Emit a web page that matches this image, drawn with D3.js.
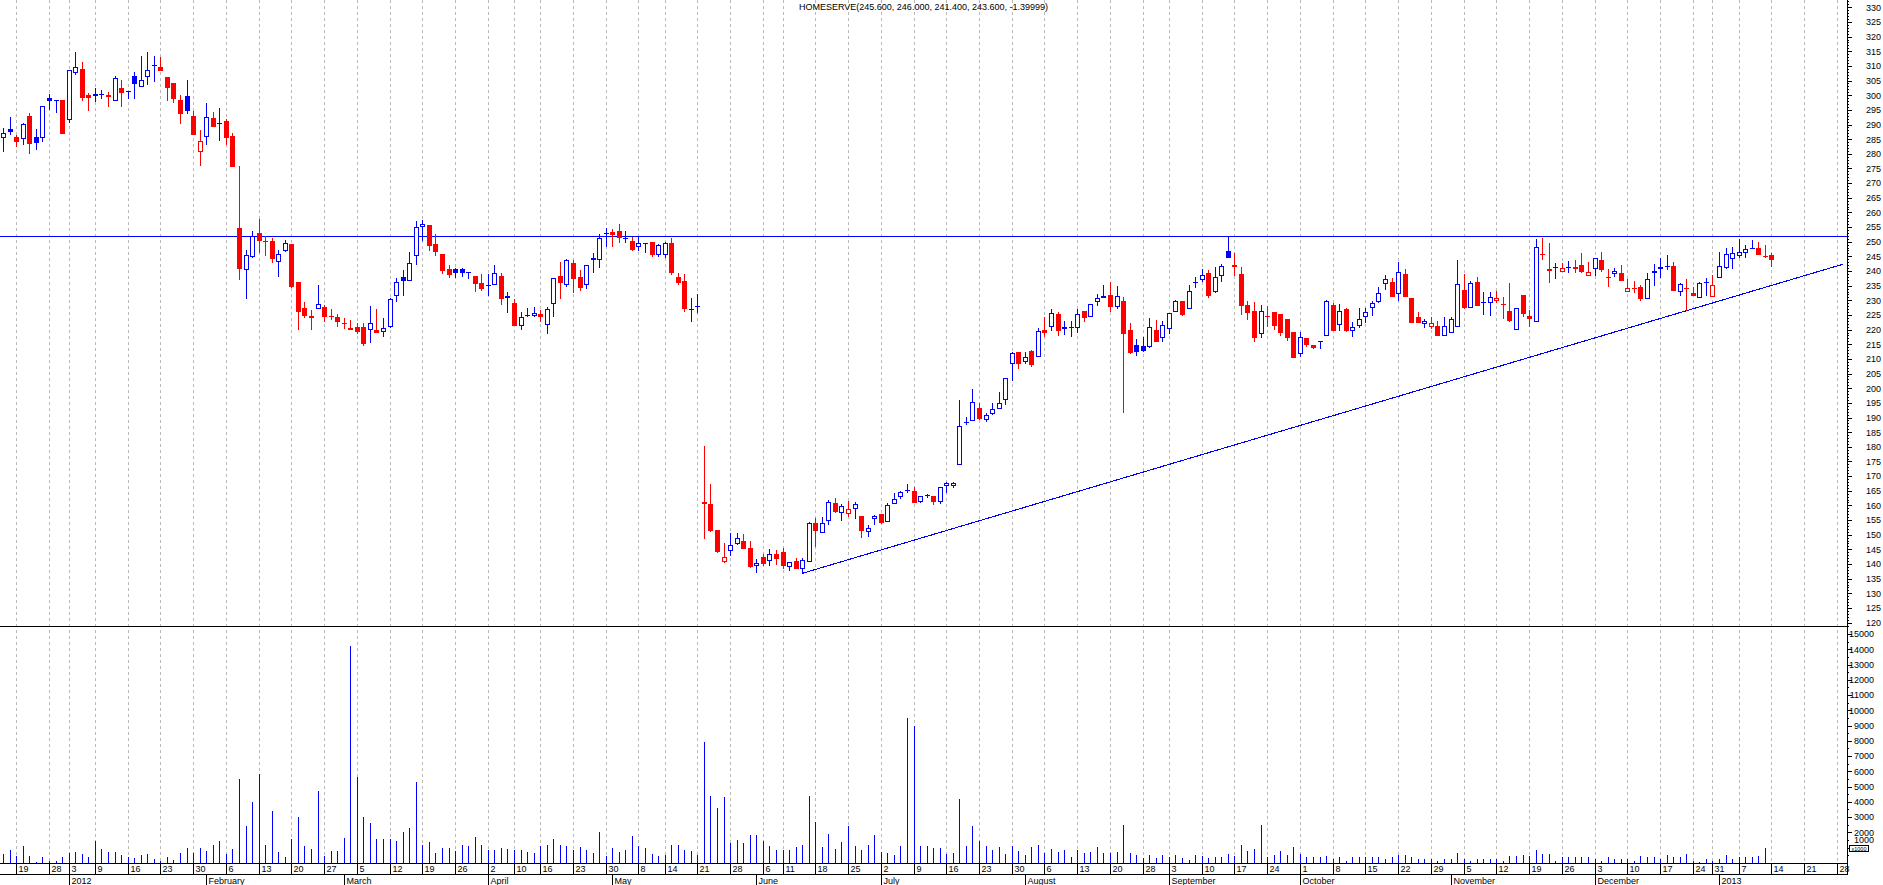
<!DOCTYPE html>
<html><head><meta charset="utf-8">
<script src="https://cdn.jsdelivr.net/npm/d3@7"></script>
<style>
html,body{margin:0;padding:0;background:#fff;overflow:hidden;}
svg{display:block;background:#fff;}
</style></head><body>
<svg id="chart" width="1883" height="885"></svg>
<script>
// ---------- DATA ----------
const title = "HOMESERVE(245.600, 246.000, 241.400, 243.600, -1.39999)";
const firstDay = "2011-12-15";
const lastAxisDay = "2013-01-31";
const holidays = ["2011-12-26","2011-12-27","2012-01-02","2012-04-06","2012-04-09","2012-05-07",
  "2012-06-04","2012-06-05","2012-08-27","2012-12-25","2012-12-26","2013-01-01"];
const firstPrevClose = 284.5;

const opens = [
285.3,288.5,285.8,284.9,292.9,285.6,285.3,299.0,298.2,298.4,
291.4,307.5,308.9,300.0,299.8,300.4,300.1,298.1,302.5,301.3,
306.6,302.7,306.3,310.2,309.6,306.2,304.3,298.4,299.7,292.9,
280.7,285.8,292.1,290.1,291.2,286.1,254.7,240.3,244.9,252.9,
250.2,250.3,243.0,246.8,249.2,236.2,227.4,223.8,226.9,227.8,
224.6,224.3,222.1,220.4,220.8,220.8,219.9,219.9,219.1,220.8,
231.6,237.9,236.7,245.1,255.1,255.7,249.2,245.8,240.6,240.6,
240.6,239.4,238.3,235.8,235.1,235.1,238.3,231.6,229.0,221.3,
224.8,224.5,225.3,221.6,228.6,238.3,235.2,242.6,237.8,235.2,
243.8,243.8,253.0,253.4,253.7,251.1,250.2,248.3,249.5,249.9,
245.5,245.5,249.7,238.1,236.6,226.6,227.8,160.5,160.5,151.6,
140.8,144.5,146.8,147.9,145.3,139.3,142.5,141.1,143.4,144.0,
138.9,141.0,138.2,140.8,153.9,150.7,154.8,160.7,157.5,157.1,
158.7,156.4,151.0,155.2,157.0,154.4,160.4,163.0,165.2,165.0,
161.3,163.3,163.3,161.0,166.6,166.6,173.8,188.5,188.9,193.1,
189.1,191.2,193.0,196.0,208.1,212.5,209.1,212.7,210.5,219.9,
220.8,225.3,221.0,220.9,220.4,226.3,224.2,229.3,230.7,231.8,
227.8,229.8,219.9,214.7,214.4,213.9,219.9,217.0,220.1,225.9,
229.8,226.9,236.0,236.9,239.2,232.9,238.3,246.8,241.9,239.0,
228.4,226.5,218.5,224.8,226.0,225.3,223.6,219.3,211.6,217.0,
214.8,216.0,217.8,228.4,221.6,227.0,219.5,221.2,224.2,227.3,
229.5,235.5,236.3,232.0,239.0,230.7,224.2,221.8,221.0,221.2,
217.8,219.0,220.8,233.5,227.3,236.1,229.4,229.0,229.9,228.9,
226.4,219.9,231.8,224.8,222.5,245.8,240.6,241.5,239.5,241.2,
241.4,242.0,238.3,240.6,243.8,237.8,238.9,239.2,232.7,234.2,
234.4,230.3,239.2,240.6,241.7,241.7,232.9,234.1,232.4,230.7,
236.3,231.2,237.5,240.9,244.0,245.1,246.0,247.6,247.7,245.1,245.6];

const highs = [
288.7,292.4,286.4,290.4,293.8,288.5,296.2,300.4,298.3,298.4,
308.5,314.7,311.2,300.9,302.3,301.9,301.0,306.6,305.2,301.4,
308.0,313.4,314.7,313.4,313.0,306.2,304.3,300.1,305.2,294.5,
288.1,297.2,294.4,295.5,291.8,287.2,275.8,247.2,253.7,257.7,
252.0,251.2,247.2,250.6,249.2,236.2,229.5,226.7,235.2,228.3,
227.0,225.3,223.8,223.3,222.1,222.1,228.0,227.2,223.8,230.7,
237.5,240.3,246.4,257.1,257.4,255.7,252.6,245.8,242.0,241.0,
241.1,239.5,238.3,239.0,238.9,242.0,239.4,233.0,230.3,226.1,
227.3,227.6,226.7,227.8,237.5,243.2,244.0,243.8,240.3,241.9,
246.0,252.6,254.6,254.2,256.0,253.7,251.5,251.5,249.6,249.9,
249.2,250.0,251.1,239.2,238.9,230.7,232.2,180.3,167.3,151.6,
147.3,150.5,150.5,150.2,148.0,141.6,143.4,145.0,144.8,145.3,
140.8,142.2,141.9,154.5,155.6,155.9,161.8,162.4,160.5,161.6,
161.3,156.4,153.3,156.7,157.0,160.7,164.1,165.0,167.3,166.2,
163.3,163.9,163.3,166.4,167.9,168.1,196.0,190.3,199.6,194.8,
191.7,194.8,198.6,203.4,212.5,212.5,212.5,213.0,220.4,224.2,
226.9,226.1,222.9,222.9,226.9,226.3,228.7,232.2,235.2,236.1,
234.9,231.2,222.1,216.8,217.4,223.9,223.3,223.1,225.5,230.1,
229.8,235.2,237.8,240.6,240.3,241.3,242.4,251.5,246.3,241.3,
229.9,229.5,228.4,228.0,226.0,225.3,223.6,219.3,219.3,217.0,
214.8,216.1,230.1,229.0,228.7,227.3,222.7,227.3,227.3,229.8,
234.4,238.6,237.5,243.2,240.6,230.7,225.9,223.5,224.2,223.0,
224.4,224.4,243.8,239.0,236.7,237.8,233.0,233.0,233.3,231.0,
235.8,227.3,231.8,226.7,250.8,251.2,249.4,242.6,242.9,243.4,
243.8,246.3,243.2,244.3,246.5,240.6,240.9,242.0,237.2,236.7,
235.2,239.2,242.3,244.3,245.5,243.2,235.8,237.3,234.7,236.4,
237.5,238.6,246.6,247.7,248.3,250.8,248.9,250.6,250.0,248.9,246.0];

const lows = [
280.7,286.4,282.2,283.0,279.9,281.3,284.1,294.9,293.8,286.9,
290.4,306.9,298.0,294.7,297.8,298.8,296.0,298.1,296.0,298.7,
298.7,302.7,303.5,304.6,308.4,298.1,297.4,290.3,293.6,286.4,
275.8,283.0,289.3,284.5,283.0,275.4,236.9,230.3,244.3,246.3,
245.1,242.8,238.1,246.4,234.1,219.9,223.8,219.9,226.9,222.7,
223.3,221.0,220.1,219.9,218.5,214.5,215.5,218.7,217.6,220.7,
229.5,231.3,236.7,242.0,250.3,246.9,245.1,239.0,237.5,237.5,
238.1,237.1,233.0,233.2,231.6,235.1,228.4,225.8,221.3,219.9,
224.2,224.2,222.7,218.5,224.2,230.6,234.7,232.6,233.3,233.7,
239.4,240.9,248.1,248.3,249.7,249.7,246.8,246.8,246.2,244.7,
244.7,244.3,238.6,235.2,226.1,222.7,225.8,148.4,151.0,143.6,
140.5,142.7,146.5,145.0,138.5,136.8,139.3,139.4,139.7,138.3,
137.7,138.2,136.8,140.8,145.9,150.7,153.3,157.5,154.8,156.2,
155.2,148.8,149.3,153.3,153.7,154.4,160.4,162.1,164.3,160.7,
160.7,162.4,160.1,160.5,164.3,165.8,173.8,187.4,188.9,189.1,
188.4,190.9,193.0,194.3,202.6,206.4,208.2,207.1,210.5,217.4,
219.6,217.8,218.2,217.6,219.0,222.7,224.2,228.1,230.7,226.1,
226.9,191.6,211.7,211.1,212.5,213.6,215.9,215.9,218.5,225.9,
224.6,226.9,234.3,236.4,230.7,232.4,236.4,244.3,238.3,225.0,
223.3,215.9,217.2,221.0,219.9,217.9,216.1,210.4,210.8,214.2,
213.3,213.3,217.8,219.6,219.6,219.3,217.6,220.4,222.2,224.6,
229.0,233.5,231.2,229.8,231.0,222.2,222.2,220.4,220.1,217.8,
217.8,219.0,220.8,226.9,227.3,228.2,225.0,224.8,229.0,223.6,
222.7,219.9,224.4,221.0,222.5,243.8,236.0,237.2,239.5,239.2,
239.4,239.2,238.3,238.3,239.8,234.7,237.8,236.7,232.7,232.4,
229.9,230.3,234.9,237.5,240.3,233.3,231.5,226.5,231.6,230.7,
231.5,231.2,237.5,240.6,240.6,244.6,244.6,247.6,245.3,244.6,241.4];

const closes = [
287.0,287.6,284.1,290.1,283.3,283.8,296.2,298.1,298.3,286.9,
308.5,309.5,299.2,299.0,300.4,300.5,299.5,305.8,300.9,301.4,
303.7,305.2,308.6,310.3,308.4,302.6,298.8,293.7,294.7,286.4,
284.3,292.4,289.3,290.6,285.3,275.4,240.6,245.5,251.9,250.4,
250.1,244.0,245.7,249.4,234.7,226.1,224.8,224.6,228.7,224.4,
224.3,222.7,221.8,219.9,219.3,215.2,222.4,219.0,220.7,230.3,
236.1,236.7,242.9,255.1,256.0,248.6,246.6,240.1,238.7,239.3,
239.4,239.5,235.4,233.8,235.2,239.2,230.3,230.9,221.3,224.2,
224.9,225.8,224.4,227.2,237.5,236.0,243.8,237.2,234.1,241.9,
244.6,251.1,253.1,252.3,251.1,251.2,247.2,249.4,249.6,245.5,
248.8,249.4,239.2,235.8,226.9,227.0,228.0,161.1,151.4,144.2,
142.3,146.5,148.8,145.0,139.1,140.5,139.9,143.3,141.6,139.4,
140.8,138.2,141.4,153.9,151.3,153.9,161.1,157.9,159.8,158.9,
160.4,151.4,152.2,156.5,154.1,160.1,162.1,164.5,165.3,160.7,
163.3,163.4,161.0,166.4,167.5,167.6,187.2,188.6,195.4,189.4,
190.9,192.8,195.1,203.4,211.9,208.3,210.5,208.0,219.6,219.0,
225.5,219.6,220.1,221.0,225.3,224.1,228.6,230.7,231.6,227.8,
231.6,218.4,211.9,212.5,212.8,220.8,215.9,221.5,225.5,229.8,
225.0,233.3,236.1,238.5,231.5,237.8,241.8,244.6,241.5,228.0,
225.8,217.2,226.4,224.6,221.2,219.0,217.0,210.4,217.4,214.8,
213.8,216.1,229.8,219.6,226.4,219.6,221.0,223.5,225.9,229.0,
232.4,237.4,231.2,239.7,231.0,222.4,222.3,223.0,222.4,217.8,
221.2,223.5,235.5,227.5,235.8,228.2,229.5,231.2,230.7,228.7,
223.0,227.3,225.2,223.5,248.3,245.6,239.9,241.0,240.9,241.4,
240.6,239.8,239.7,244.3,240.3,237.5,240.1,236.7,234.1,234.0,
230.4,237.2,240.0,241.2,241.8,233.3,235.5,234.0,231.6,235.8,
236.4,235.2,241.7,245.8,246.3,246.5,247.4,247.7,245.3,245.0,243.6];

const volumes = [
600,850,450,1100,450,60,400,130,130,400,
650,700,600,400,1400,900,700,700,520,400,
300,520,600,250,150,400,200,650,950,650,
950,770,1150,1450,600,900,5500,2400,4000,5800,
1200,3400,700,400,1550,3000,1100,900,4700,450,
770,770,1600,14200,5600,3000,2600,1550,1550,1550,
1400,2000,2300,5300,1200,1350,650,1000,1000,770,
1200,1100,1700,1200,830,830,960,900,830,830,
700,660,1100,1200,1550,1200,1100,830,1050,830,
660,2000,440,940,680,830,1750,1100,960,570,
440,520,1150,1150,830,790,500,7900,4400,3600,
4300,1300,1500,1300,1800,1800,1400,1100,870,830,
830,1050,1200,4400,2700,1050,1900,900,1350,2400,
1100,830,1200,1800,700,660,500,1100,9500,9000,
1100,1100,960,960,570,610,4200,1100,2400,1400,
1100,830,1030,590,1100,790,500,1030,1200,660,
900,700,830,390,830,660,700,1030,660,660,
700,2500,660,500,330,520,330,520,390,520,
330,175,520,440,330,390,390,590,440,1160,
770,900,2450,390,520,770,520,1030,570,390,
390,390,460,260,390,130,350,390,350,390,
350,280,350,500,500,350,280,280,280,130,
220,280,660,220,130,220,280,280,220,130,
440,440,500,440,830,570,570,130,350,350,
350,350,350,220,130,350,220,220,220,130,
440,350,350,220,500,350,350,570,130,70,
220,130,280,500,220,350,350,390,440,940,0];

const resistanceLevel = 252.1;
const trendStart = {day: 122, price: 136.8};
const trendEnd = {day: 280.9, price: 242.3};
const priceTicks = d3.range(120, 331, 5);
const priceMinorTicks = d3.range(119, 333, 1);
const volumeTicks = d3.range(1000, 15001, 1000);
const volumeMinorTicks = d3.range(500, 15501, 500);

// ---------- SETUP ----------
const BLUE = "#0000ff", RED = "#ff0000", GRID = "#b9b9b9";
const FONT = "'Liberation Sans', Arial, sans-serif";
const axisX = 1847;
const svg = d3.select("#chart");

// trading calendar
const fmt = d3.utcFormat("%Y-%m-%d");
const hol = new Set(holidays);
const days = [];
for (let d = new Date(firstDay + "T00:00:00Z"); d <= new Date(lastAxisDay + "T00:00:00Z"); d = d3.utcDay.offset(d, 1)) {
  const wd = d.getUTCDay();
  if (wd === 0 || wd === 6 || hol.has(fmt(d))) continue;
  days.push(d);
}

const x = d3.scaleLinear().domain([0, 280]).range([3.2, 1836.9]);
const yP = d3.scaleLinear().domain([120, 330]).range([622.6, 7.3]);
const yV = d3.scaleLinear().domain([0, 15000]).range([862.8, 634.05]);
const px = i => Math.round(x(i));

// week & month ticks
const weekIdx = [], monthIdx = [];
for (let i = 1; i < days.length; i++) {
  if (+d3.utcMonday.floor(days[i]) !== +d3.utcMonday.floor(days[i-1])) weekIdx.push(i);
  if (days[i].getUTCMonth() !== days[i-1].getUTCMonth()) monthIdx.push(i);
}
const monthLabel = i => days[i].getUTCMonth() === 0 ? d3.utcFormat("%Y")(days[i]) : d3.utcFormat("%B")(days[i]);

// ---------- GRID ----------
svg.append("g").selectAll("line").data(weekIdx).join("line")
  .attr("x1", i => px(i) + 0.5).attr("x2", i => px(i) + 0.5)
  .attr("y1", 0).attr("y2", 863)
  .attr("stroke", GRID).attr("stroke-dasharray", "3,3").attr("shape-rendering", "crispEdges");

// ---------- TITLE ----------
svg.append("text").attr("x", axisX / 2).attr("y", 10).attr("text-anchor", "middle")
  .attr("font-family", FONT).attr("font-size", 9).attr("fill", "#000").text(title);

// ---------- LINES ----------
svg.append("line").attr("x1", 0).attr("x2", axisX).attr("y1", Math.round(yP(resistanceLevel)) + 0.5)
  .attr("y2", Math.round(yP(resistanceLevel)) + 0.5).attr("stroke", BLUE).attr("stroke-width", 1)
  .attr("shape-rendering", "crispEdges");
svg.append("line").attr("x1", x(trendStart.day)).attr("y1", yP(trendStart.price))
  .attr("x2", x(trendEnd.day)).attr("y2", yP(trendEnd.price))
  .attr("stroke", BLUE).attr("stroke-width", 1.1).attr("shape-rendering", "crispEdges");

// ---------- CANDLES ----------
const candles = opens.map((o, i) => ({i, o, h: highs[i], l: lows[i], c: closes[i],
  prev: i === 0 ? firstPrevClose : closes[i-1]}));
const gC = svg.append("g").attr("shape-rendering", "crispEdges");
candles.forEach(d => {
  const col = d.c >= d.prev ? BLUE : RED;
  const cx = px(d.i);
  const yH = Math.round(yP(d.h)), yL = Math.round(yP(d.l));
  gC.append("line").attr("x1", cx + 0.5).attr("x2", cx + 0.5).attr("y1", yH).attr("y2", Math.max(yL, yH + 1))
    .attr("stroke", col).attr("stroke-width", 1);
  const yT = Math.round(yP(Math.max(d.o, d.c))), yB = Math.round(yP(Math.min(d.o, d.c)));
  const bh = yB - yT;
  if (bh < 2) {
    gC.append("rect").attr("x", cx - 2).attr("y", yT).attr("width", 5).attr("height", Math.max(1, bh)).attr("fill", col);
  } else if (d.c < d.o) {
    gC.append("rect").attr("x", cx - 2).attr("y", yT).attr("width", 5).attr("height", bh).attr("fill", col);
  } else {
    gC.append("rect").attr("x", cx - 1.5).attr("y", yT + 0.5).attr("width", 4).attr("height", bh - 1)
      .attr("fill", "#fff").attr("stroke", col).attr("stroke-width", 1);
  }
});

// ---------- VOLUME ----------
svg.append("g").attr("shape-rendering", "crispEdges").selectAll("line")
  .data(volumes.map((v, i) => ({v, i})).filter(d => d.v > 0)).join("line")
  .attr("x1", d => px(d.i) + 0.5).attr("x2", d => px(d.i) + 0.5)
  .attr("y1", Math.round(yV(0))).attr("y2", d => Math.round(yV(d.v)))
  .attr("stroke", BLUE).attr("stroke-width", 1);

// ---------- FRAME ----------
const frame = svg.append("g").attr("shape-rendering", "crispEdges").attr("stroke", "#000");
frame.append("line").attr("x1", 0).attr("x2", axisX).attr("y1", 626.5).attr("y2", 626.5);
frame.append("line").attr("x1", 0).attr("x2", axisX).attr("y1", 863.5).attr("y2", 863.5);
frame.append("line").attr("x1", 0).attr("x2", axisX).attr("y1", 874.5).attr("y2", 874.5);
frame.append("line").attr("x1", axisX + 0.5).attr("x2", axisX + 0.5).attr("y1", 0).attr("y2", 875);

// ---------- RIGHT AXES ----------
function styleAxis(g) {
  g.select(".domain").remove();
  g.attr("font-family", FONT).attr("font-size", 9);
  g.selectAll("line").attr("shape-rendering", "crispEdges").attr("stroke", "#000");
  g.selectAll("text").attr("fill", "#000");
}
svg.append("g").attr("transform", `translate(${axisX},0)`)
  .call(d3.axisRight(yP).tickValues(priceMinorTicks).tickSize(2).tickFormat("")).call(styleAxis);
svg.append("g").attr("transform", `translate(${axisX},0)`)
  .call(d3.axisRight(yP).tickValues(priceTicks).tickSize(5).tickPadding(14).tickFormat(d3.format("d"))).call(styleAxis);
svg.append("g").attr("transform", `translate(${axisX},0)`)
  .call(d3.axisRight(yV).tickValues(volumeMinorTicks).tickSize(2).tickFormat("")).call(styleAxis);
const gVol = svg.append("g").attr("transform", `translate(${axisX},0)`)
  .call(d3.axisRight(yV).tickValues(volumeTicks).tickSize(5).tickFormat(d3.format("d"))).call(styleAxis);
gVol.selectAll("text").attr("text-anchor", "end").attr("x", 27);
gVol.selectAll(".tick").filter(d => d === 1000).select("text").attr("y", -7.5);

// x1000 marker
svg.append("rect").attr("x", axisX + 2.5).attr("y", 845.5).attr("width", 19).attr("height", 6)
  .attr("fill", "#fff").attr("stroke", "#000").attr("shape-rendering", "crispEdges");
svg.append("text").attr("x", axisX + 12).attr("y", 850.6).attr("text-anchor", "middle")
  .attr("font-family", FONT).attr("font-size", 5.5).text("x1000");

// ---------- BOTTOM AXIS ----------
const gW = svg.append("g").attr("font-family", FONT).attr("font-size", 9);
weekIdx.forEach(i => {
  gW.append("line").attr("x1", px(i) + 0.5).attr("x2", px(i) + 0.5).attr("y1", 864).attr("y2", 874)
    .attr("stroke", "#000").attr("shape-rendering", "crispEdges");
  gW.append("text").attr("x", px(i) + 2.5).attr("y", 872).text(d3.utcFormat("%-d")(days[i]));
});
monthIdx.forEach(i => {
  gW.append("line").attr("x1", px(i) + 0.5).attr("x2", px(i) + 0.5).attr("y1", 875).attr("y2", 885)
    .attr("stroke", "#000").attr("shape-rendering", "crispEdges");
  gW.append("text").attr("x", px(i) + 2.5).attr("y", 883.5).text(monthLabel(i));
});
</script>
</body></html>
